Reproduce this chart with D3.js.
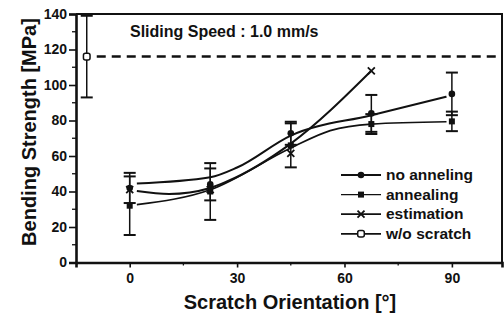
<!DOCTYPE html>
<html>
<head>
<meta charset="utf-8">
<script src="https://cdn.jsdelivr.net/npm/d3@7"></script>
<style>
    body { margin: 0; background: white; }
    svg { display: block; font-family: "Liberation Sans", Arial, sans-serif; }
    .tick text { font-weight: bold; }
</style>
</head>
<body>
<svg width="504" height="316"></svg>
<script>
'use strict';

/* global d3 */

// scratch orientation [deg]
var angles = [0, 22.5, 45, 67.5, 90];
var estAngles = [0, 22.5, 45, 67.5];

// measured bending strength [MPa] and error
var noAnnealVals = [42, 44, 72.8, 84, 95];
var noAnnealErr = [8.5, 9, 6.5, 10.4, 12];
var annealVals = [32, 40, 66, 78, 79.5];
var annealErr = [16.5, 16, 12.4, 5.6, 5.5];
var estVals = [41, 41, 61.5, 108];

// w/o scratch reference
var refAngle = -12;
var refVal = 116;
var refErr = 23;

// fitted curves
var noAnnealFitX = [2, 22.5, 30, 45, 67.5, 88.5];
var noAnnealFitY = [44.5, 48, 53.5, 71.5, 83, 93.4];
var annealFitX = [2, 22.5, 45, 56, 67.5, 88.5];
var annealFitY = [32.6, 41, 64.5, 74.3, 78, 79.3];
var estFitX = [2, 11, 22.5, 27, 45, 67.5];
var estFitY = [40.3, 38.6, 42, 45.5, 67, 108];

var xTicks = [0, 30, 60, 90];
var xMinor = [15, 45, 75];
var yTicks = [0, 20, 40, 60, 80, 100, 120, 140];
var yMinor = [10, 30, 50, 70, 90, 110, 130];

var legendNames = ["no anneling", "annealing", "estimation", "w/o scratch"];
var legendSymbols = ["circle", "square", "cross", "open"];

var svg = d3.select("svg");
var plotLeft = 76, plotRight = 502, plotTop = 14, plotBottom = 262.5;

var x = d3.scaleLinear().domain([-15, 104]).range([plotLeft, plotRight]);
var y = d3.scaleLinear().domain([0, 140]).range([plotBottom, plotTop]);

function drawSymbol(g, kind, cx, cy) {
    if (kind === "circle") {
        g.append("circle").attr("cx", cx).attr("cy", cy).attr("r", 3.3).attr("fill", "#111");
    } else if (kind === "square") {
        g.append("rect").attr("x", cx - 3).attr("y", cy - 3).attr("width", 6).attr("height", 6).attr("fill", "#111");
    } else if (kind === "cross") {
        g.append("path")
            .attr("d", "M" + (cx - 3.5) + "," + (cy - 3.5) + "L" + (cx + 3.5) + "," + (cy + 3.5) +
                       "M" + (cx - 3.5) + "," + (cy + 3.5) + "L" + (cx + 3.5) + "," + (cy - 3.5))
            .attr("stroke", "#111").attr("stroke-width", 1.8);
    } else {
        g.append("rect").attr("x", cx - 3.3).attr("y", cy - 3.3).attr("width", 6.6).attr("height", 6.6)
            .attr("rx", 2).attr("fill", "white").attr("stroke", "#111").attr("stroke-width", 1.5);
    }
}

// axes
var xAxis = svg.append("g")
    .attr("transform", "translate(0," + plotBottom + ")")
    .call(d3.axisBottom(x).tickValues(xTicks).tickSize(5).tickPadding(6).tickFormat(d3.format("d")));
var yAxis = svg.append("g")
    .attr("transform", "translate(" + plotLeft + ",0)")
    .call(d3.axisLeft(y).tickValues(yTicks).tickSize(7).tickPadding(2).tickFormat(d3.format("d")));

[xAxis, yAxis].forEach(function (a) {
    a.select(".domain").attr("stroke-width", 2.6).attr("stroke", "#111");
    a.selectAll(".tick line").attr("stroke-width", 1.6).attr("stroke", "#111");
    a.selectAll(".tick text").style("font-size", "14px").attr("fill", "#111");
});

svg.append("g").selectAll("line").data(xMinor).enter().append("line")
    .attr("x1", function (d) { return x(d); }).attr("x2", function (d) { return x(d); })
    .attr("y1", plotBottom).attr("y2", plotBottom + 3)
    .attr("stroke", "#111").attr("stroke-width", 1.3);
svg.append("g").selectAll("line").data(yMinor).enter().append("line")
    .attr("y1", function (d) { return y(d); }).attr("y2", function (d) { return y(d); })
    .attr("x1", plotLeft).attr("x2", plotLeft - 4)
    .attr("stroke", "#111").attr("stroke-width", 1.3);

// frame top / right
svg.append("path")
    .attr("d", "M" + plotLeft + "," + plotTop + "H" + plotRight + "V" + plotBottom)
    .attr("fill", "none").attr("stroke", "#111").attr("stroke-width", 2);

// titles
svg.append("text")
    .attr("x", 290).attr("y", 309)
    .attr("text-anchor", "middle")
    .style("font-size", "20px").style("font-weight", "bold").attr("fill", "#111")
    .text("Scratch Orientation [°]");
svg.append("text")
    .attr("transform", "translate(36,132) rotate(-90)")
    .attr("text-anchor", "middle")
    .style("font-size", "20px").style("font-weight", "bold").attr("fill", "#111")
    .text("Bending Strength [MPa]");
svg.append("text")
    .attr("x", 130).attr("y", 37)
    .style("font-size", "16px").style("font-weight", "bold").attr("fill", "#111")
    .text("Sliding Speed : 1.0 mm/s");

// reference dashed line
svg.append("line")
    .attr("x1", x(refAngle) + 10).attr("x2", plotRight)
    .attr("y1", y(refVal)).attr("y2", y(refVal))
    .attr("stroke", "#111").attr("stroke-width", 2.5).attr("stroke-dasharray", "9,6");

// fitted curves
var line = d3.line()
    .x(function (d) { return x(d[0]); })
    .y(function (d) { return y(d[1]); })
    .curve(d3.curveMonotoneX);

var fits = [
    { xs: noAnnealFitX, ys: noAnnealFitY, w: 2 },
    { xs: annealFitX, ys: annealFitY, w: 1.7 },
    { xs: estFitX, ys: estFitY, w: 2 }
];
fits.forEach(function (f) {
    svg.append("path")
        .datum(d3.zip(f.xs, f.ys))
        .attr("d", line)
        .attr("fill", "none").attr("stroke", "#111").attr("stroke-width", f.w);
});

// error bars
function errorBars(xs, vals, errs) {
    var g = svg.append("g").attr("stroke", "#111");
    xs.forEach(function (a, i) {
        var cx = x(a), y0 = y(vals[i] - errs[i]), y1 = y(vals[i] + errs[i]);
        g.append("line").attr("x1", cx).attr("x2", cx).attr("y1", y0).attr("y2", y1).attr("stroke-width", 1.5);
        g.append("line").attr("x1", cx - 6).attr("x2", cx + 6).attr("y1", y0).attr("y2", y0).attr("stroke-width", 2);
        g.append("line").attr("x1", cx - 6).attr("x2", cx + 6).attr("y1", y1).attr("y2", y1).attr("stroke-width", 2);
    });
}
errorBars(angles, noAnnealVals, noAnnealErr);
errorBars(angles, annealVals, annealErr);
errorBars([refAngle], [refVal], [refErr]);

// markers
var marks = svg.append("g");
angles.forEach(function (a, i) {
    drawSymbol(marks, "circle", x(a), y(noAnnealVals[i]));
    drawSymbol(marks, "square", x(a), y(annealVals[i]));
});
estAngles.forEach(function (a, i) {
    drawSymbol(marks, "cross", x(a), y(estVals[i]));
});
drawSymbol(marks, "open", x(refAngle), y(refVal));

// legend
var legend = svg.append("g");
legendNames.forEach(function (name, i) {
    var cy = 175 + i * 19.6;
    legend.append("line")
        .attr("x1", 341).attr("x2", 381).attr("y1", cy).attr("y2", cy)
        .attr("stroke", "#111").attr("stroke-width", i === 1 ? 1.3 : 1.8);
    drawSymbol(legend, legendSymbols[i], 361, cy);
    legend.append("text")
        .attr("x", 386).attr("y", cy + 5)
        .style("font-size", "15.5px").style("font-weight", "bold").attr("fill", "#111")
        .text(name);
});
</script>
</body>
</html>
